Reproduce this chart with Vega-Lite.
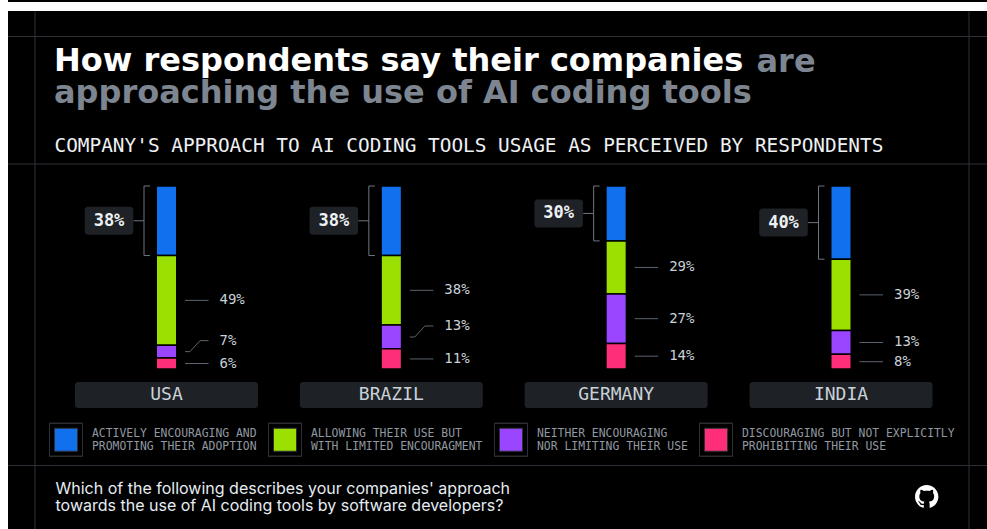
{
  "$schema": "https://vega.github.io/schema/vega-lite/v6.json",
  "width": 979,
  "height": 518,
  "autosize": {"type": "none"},
  "padding": {"left": 8, "top": 11, "right": 0, "bottom": 0},
  "background": "white",
  "config": {"view": {"fill": "black", "stroke": null}, "font": "Inter"},
  "title": {
    "text": "How respondents say their companies",
    "subtitle": "approaching the use of AI coding tools",
    "anchor": "start",
    "frame": "group",
    "dx": 46,
    "offset": -110,
    "font": "DejaVu Sans",
    "fontSize": 32,
    "fontWeight": "bold",
    "color": "#ffffff",
    "subtitleFont": "DejaVu Sans",
    "subtitleFontSize": 32,
    "subtitleFontWeight": "bold",
    "subtitleColor": "#7d8590",
    "subtitlePadding": 0
  },
  "data": {
    "values": [
      {"country": "USA", "approach": "Actively encouraging and promoting their adoption", "pct": 38},
      {"country": "USA", "approach": "Allowing their use but with limited encouragment", "pct": 49},
      {"country": "USA", "approach": "Neither encouraging nor limiting their use", "pct": 7},
      {"country": "USA", "approach": "Discouraging but not explicitly prohibiting their use", "pct": 6},
      {"country": "Brazil", "approach": "Actively encouraging and promoting their adoption", "pct": 38},
      {"country": "Brazil", "approach": "Allowing their use but with limited encouragment", "pct": 38},
      {"country": "Brazil", "approach": "Neither encouraging nor limiting their use", "pct": 13},
      {"country": "Brazil", "approach": "Discouraging but not explicitly prohibiting their use", "pct": 11},
      {"country": "Germany", "approach": "Actively encouraging and promoting their adoption", "pct": 30},
      {"country": "Germany", "approach": "Allowing their use but with limited encouragment", "pct": 29},
      {"country": "Germany", "approach": "Neither encouraging nor limiting their use", "pct": 27},
      {"country": "Germany", "approach": "Discouraging but not explicitly prohibiting their use", "pct": 14},
      {"country": "India", "approach": "Actively encouraging and promoting their adoption", "pct": 40},
      {"country": "India", "approach": "Allowing their use but with limited encouragment", "pct": 39},
      {"country": "India", "approach": "Neither encouraging nor limiting their use", "pct": 13},
      {"country": "India", "approach": "Discouraging but not explicitly prohibiting their use", "pct": 8}
    ]
  },
  "transform": [
    {"calculate": "indexof(['Discouraging but not explicitly prohibiting their use', 'Neither encouraging nor limiting their use', 'Allowing their use but with limited encouragment', 'Actively encouraging and promoting their adoption'], datum.approach)", "as": "ord"},
    {"stack": "pct", "groupby": ["country"], "sort": [{"field": "ord", "order": "ascending"}], "as": ["y0", "y1"]},
    {"calculate": "(datum.y0 + datum.y1) / 2", "as": "mid"},
    {"calculate": "upper(datum.country)", "as": "countryLabel"},
    {"calculate": "datum.pct + '%'", "as": "pctLabel"},
    {"calculate": "datum.ord == 1 && (datum.country == 'USA' || datum.country == 'Brazil')", "as": "nudged"}
  ],
  "layer": [
    {
      "transform": [{"filter": "datum.ord == 3 && datum.country == 'USA'"}],
      "mark": {"type": "rule", "color": "#000000", "strokeWidth": 2},
      "encoding": {"y": {"datum": 201.1, "type": "quantitative", "axis": null}}
    },
    {
      "transform": [{"filter": "datum.ord == 3 && datum.country == 'USA'"}],
      "mark": {"type": "rule", "color": "#2d3036", "strokeWidth": 1},
      "encoding": {"y": {"datum": 181.69, "type": "quantitative", "axis": null}}
    },
    {
      "transform": [{"filter": "datum.ord == 3 && datum.country == 'USA'"}],
      "mark": {"type": "rule", "color": "#2d3036", "strokeWidth": 1},
      "encoding": {"y": {"datum": 112.02, "type": "quantitative", "axis": null}}
    },
    {
      "transform": [{"filter": "datum.ord == 3 && datum.country == 'USA'"}],
      "mark": {"type": "rule", "color": "#2d3036", "strokeWidth": 1},
      "encoding": {"y": {"datum": -52.73, "type": "quantitative", "axis": null}}
    },
    {
      "mark": {"type": "bar", "width": 20.5, "stroke": "black", "strokeWidth": 1.5},
      "encoding": {
        "x": {
          "field": "country", "type": "nominal",
          "scale": {"type": "point", "domain": ["USA", "Brazil", "Germany", "India"], "range": [158.5, 833], "padding": 0},
          "axis": {
            "orient": "top", "labels": false, "ticks": false, "domain": false, "grid": false,
            "title": "COMPANY'S APPROACH TO AI CODING TOOLS USAGE AS PERCEIVED BY RESPONDENTS",
            "titleFont": "DejaVu Sans Mono", "titleFontSize": 19.4, "titleFontWeight": "normal",
            "titleColor": "#eef1f4", "titleAnchor": "start", "titleAlign": "left", "titleBaseline": "middle",
            "titleX": 46, "titleY": 134
          }
        },
        "y": {
          "field": "y0", "type": "quantitative",
          "scale": {"domain": [-87.43, 195.63], "nice": false, "zero": false},
          "axis": {
            "orient": "left", "offset": -26.5, "labels": false, "ticks": false,
            "domain": true, "domainColor": "#2d3036", "grid": false,
            "title": ["Which of the following describes your companies' approach", "towards the use of AI coding tools by software developers?"],
            "titleFont": "Inter", "titleFontSize": 16, "titleFontWeight": "normal", "titleColor": "#e6edf3",
            "titleAngle": 0, "titleAlign": "left", "titleBaseline": "alphabetic", "titleLineHeight": 17,
            "titleX": 20.5, "titleY": 482
          }
        },
        "y2": {"field": "y1"},
        "fill": {
          "field": "approach", "type": "nominal",
          "scale": {
            "domain": ["Actively encouraging and promoting their adoption", "Allowing their use but with limited encouragment", "Neither encouraging nor limiting their use", "Discouraging but not explicitly prohibiting their use"],
            "range": ["#1170ee", "#9be000", "#9a45ff", "#ff2e79"]
          },
          "legend": {
            "orient": "none", "legendX": 41, "legendY": 411.5, "direction": "horizontal", "columns": 4,
            "columnPadding": 9, "padding": 0, "title": null,
            "symbolType": "M-1 -1L1 -1L1 1L-1 1L-1 -1L-1 1L1 1L1 -1ZM-.697 -.697L.697 -.697L.697 .697L-.697 .697Z",
            "symbolSize": 1089, "symbolStrokeWidth": 1, "symbolStrokeColor": "#2d3036", "symbolOpacity": 1,
            "labelFont": "DejaVu Sans Mono", "labelFontSize": 11.4, "labelColor": "#9198a1", "labelLimit": 400, "labelOffset": 9,
            "labelBaseline": "line-bottom",
            "labelExpr": "datum.label == 'Actively encouraging and promoting their adoption' ? ['ACTIVELY ENCOURAGING AND', 'PROMOTING THEIR ADOPTION'] : datum.label == 'Allowing their use but with limited encouragment' ? ['ALLOWING THEIR USE BUT', 'WITH LIMITED ENCOURAGMENT'] : datum.label == 'Neither encouraging nor limiting their use' ? ['NEITHER ENCOURAGING', 'NOR LIMITING THEIR USE'] : ['DISCOURAGING BUT NOT EXPLICITLY', 'PROHIBITING THEIR USE']"
          }
        }
      }
    },
    {
      "transform": [{"filter": "datum.ord == 3"}],
      "mark": {"type": "rule", "xOffset": -22.5, "color": "#6e7681", "strokeWidth": 1},
      "encoding": {
        "x": {"field": "country", "type": "nominal", "axis": null},
        "y": {"field": "y0", "type": "quantitative", "axis": null},
        "y2": {"field": "y1"}
      }
    },
    {
      "transform": [{"filter": "datum.ord == 3"}],
      "mark": {"type": "rule", "xOffset": -22.5, "x2Offset": -16.5, "color": "#6e7681", "strokeWidth": 1},
      "encoding": {
        "x": {"field": "country", "type": "nominal", "axis": null},
        "x2": {"field": "country"},
        "y": {"field": "y1", "type": "quantitative", "axis": null}
      }
    },
    {
      "transform": [{"filter": "datum.ord == 3"}],
      "mark": {"type": "rule", "xOffset": -22.5, "x2Offset": -16.5, "color": "#6e7681", "strokeWidth": 1},
      "encoding": {
        "x": {"field": "country", "type": "nominal", "axis": null},
        "x2": {"field": "country"},
        "y": {"field": "y0", "type": "quantitative", "axis": null}
      }
    },
    {
      "transform": [{"filter": "datum.ord == 3"}],
      "mark": {"type": "rule", "xOffset": -33, "x2Offset": -22.5, "color": "#6e7681", "strokeWidth": 1},
      "encoding": {
        "x": {"field": "country", "type": "nominal", "axis": null},
        "x2": {"field": "country"},
        "y": {"field": "mid", "type": "quantitative", "axis": null}
      }
    },
    {
      "transform": [{"filter": "datum.ord == 3"}],
      "mark": {"type": "rect", "xOffset": -57.5, "width": 48.5, "height": 28, "fill": "#1e2125", "cornerRadius": 3},
      "encoding": {
        "x": {"field": "country", "type": "nominal", "axis": null},
        "y": {"field": "mid", "type": "quantitative", "axis": null}
      }
    },
    {
      "transform": [{"filter": "datum.ord == 3"}],
      "mark": {"type": "text", "dx": -57.5, "font": "DejaVu Sans Mono", "fontSize": 17, "fontWeight": "bold", "fill": "#eef1f4", "align": "center", "baseline": "middle"},
      "encoding": {
        "x": {"field": "country", "type": "nominal", "axis": null},
        "y": {"field": "mid", "type": "quantitative", "axis": null},
        "text": {"field": "pctLabel"}
      }
    },
    {
      "transform": [{"filter": "datum.ord < 3 && !datum.nudged"}],
      "mark": {"type": "rule", "xOffset": 18.5, "x2Offset": 42, "color": "#5c636b", "strokeWidth": 1},
      "encoding": {
        "x": {"field": "country", "type": "nominal", "axis": null},
        "x2": {"field": "country"},
        "y": {"field": "mid", "type": "quantitative", "axis": null}
      }
    },
    {
      "transform": [{"filter": "datum.nudged"}],
      "mark": {"type": "rule", "xOffset": 18.5, "x2Offset": 23.5, "color": "#5c636b", "strokeWidth": 1},
      "encoding": {
        "x": {"field": "country", "type": "nominal", "axis": null},
        "x2": {"field": "country"},
        "y": {"field": "mid", "type": "quantitative", "axis": null}
      }
    },
    {
      "transform": [{"filter": "datum.nudged"}],
      "mark": {"type": "rule", "xOffset": 23.5, "x2Offset": 33.5, "y2Offset": -11, "color": "#5c636b", "strokeWidth": 1},
      "encoding": {
        "x": {"field": "country", "type": "nominal", "axis": null},
        "x2": {"field": "country"},
        "y": {"field": "mid", "type": "quantitative", "axis": null},
        "y2": {"field": "mid"}
      }
    },
    {
      "transform": [{"filter": "datum.nudged"}],
      "mark": {"type": "rule", "xOffset": 33.5, "x2Offset": 42, "yOffset": -11, "color": "#5c636b", "strokeWidth": 1},
      "encoding": {
        "x": {"field": "country", "type": "nominal", "axis": null},
        "x2": {"field": "country"},
        "y": {"field": "mid", "type": "quantitative", "axis": null}
      }
    },
    {
      "transform": [{"filter": "datum.ord < 3 && !datum.nudged"}],
      "mark": {"type": "text", "dx": 53, "font": "DejaVu Sans Mono", "fontSize": 14, "fill": "#c9d1d9", "align": "left", "baseline": "middle"},
      "encoding": {
        "x": {"field": "country", "type": "nominal", "axis": null},
        "y": {"field": "mid", "type": "quantitative", "axis": null},
        "text": {"field": "pctLabel"}
      }
    },
    {
      "transform": [{"filter": "datum.nudged"}],
      "mark": {"type": "text", "dx": 53, "dy": -11, "font": "DejaVu Sans Mono", "fontSize": 14, "fill": "#c9d1d9", "align": "left", "baseline": "middle"},
      "encoding": {
        "x": {"field": "country", "type": "nominal", "axis": null},
        "y": {"field": "mid", "type": "quantitative", "axis": null},
        "text": {"field": "pctLabel"}
      }
    },
    {
      "transform": [{"filter": "datum.ord == 3"}],
      "mark": {"type": "rect", "width": 183, "height": 26, "yOffset": 26, "fill": "#1e2125", "cornerRadius": 3},
      "encoding": {
        "x": {"field": "country", "type": "nominal", "axis": null},
        "y": {
          "datum": 0, "type": "quantitative",
          "axis": {
            "orient": "right", "offset": -18.5, "labels": false, "ticks": false, "grid": false,
            "domain": true, "domainColor": "#2d3036",
            "title": "are", "titleFont": "DejaVu Sans", "titleFontSize": 32, "titleFontWeight": "bold", "titleColor": "#7d8590",
            "titleAngle": 0, "titleAlign": "left", "titleBaseline": "alphabetic", "titleX": -212.5, "titleY": 60
          }
        }
      }
    },
    {
      "transform": [{"filter": "datum.ord == 3"}],
      "mark": {"type": "text", "yOffset": 26, "font": "DejaVu Sans Mono", "fontSize": 18, "fill": "#c9d1d9", "align": "center", "baseline": "middle"},
      "encoding": {
        "x": {"field": "country", "type": "nominal", "axis": null},
        "y": {"datum": 0, "type": "quantitative", "axis": null},
        "text": {"field": "countryLabel"}
      }
    },
    {
      "transform": [{"filter": "datum.ord == 3 && datum.country == 'India'"}],
      "mark": {
        "type": "point", "filled": true, "fill": "#ffffff", "opacity": 1, "size": 545, "xOffset": 85.7, "yOffset": 127.7,
        "shape": "M0 -1c.5525 0 1 .4475 1 1a1.0016 1.0016 0 0 1 -.68125 .94875c-.05 .01 -.06875 -.02125 -.06875 -.0475 0 -.03375 .00125 -.14125 .00125 -.275 0 -.09375 -.03125 -.15375 -.0675 -.185 .2225 -.025 .45625 -.11 .45625 -.49375 0 -.11 -.03875 -.19875 -.1025 -.26875 .01 -.025 .045 -.1275 -.01 -.265 0 0 -.08375 -.0275 -.275 .1025 -.08 -.0225 -.165 -.03375 -.25 -.03375 -.085 0 -.17 .01125 -.25 .03375 -.19125 -.12875 -.275 -.1025 -.275 -.1025 -.055 .1375 -.02 .24 -.01 .265 -.06375 .07 -.1025 .16 -.1025 .26875 0 .3825 .2325 .46875 .455 .49375 -.02875 .025 -.055 .06875 -.06375 .13375 -.0575 .02625 -.20125 .06875 -.29125 -.0825 -.01875 -.03 -.075 -.10375 -.15375 -.1025 -.08375 .00125 -.03375 .0475 .00125 .06625 .0425 .02375 .09125 .1125 .1025 .14125 .02 .05625 .085 .16375 .33625 .1175 0 .08375 .00125 .1625 .00125 .18625 0 .02625 -.01875 .05625 -.06875 .0475A.9994 .9994 0 0 1 -1 0c0 -.5525 .4475 -1 1 -1Z"
      },
      "encoding": {
        "x": {"field": "country", "type": "nominal", "axis": null},
        "y": {"datum": 0, "type": "quantitative", "axis": null}
      }
    }
  ],
  "resolve": {"axis": {"x": "independent", "y": "independent"}}
}
